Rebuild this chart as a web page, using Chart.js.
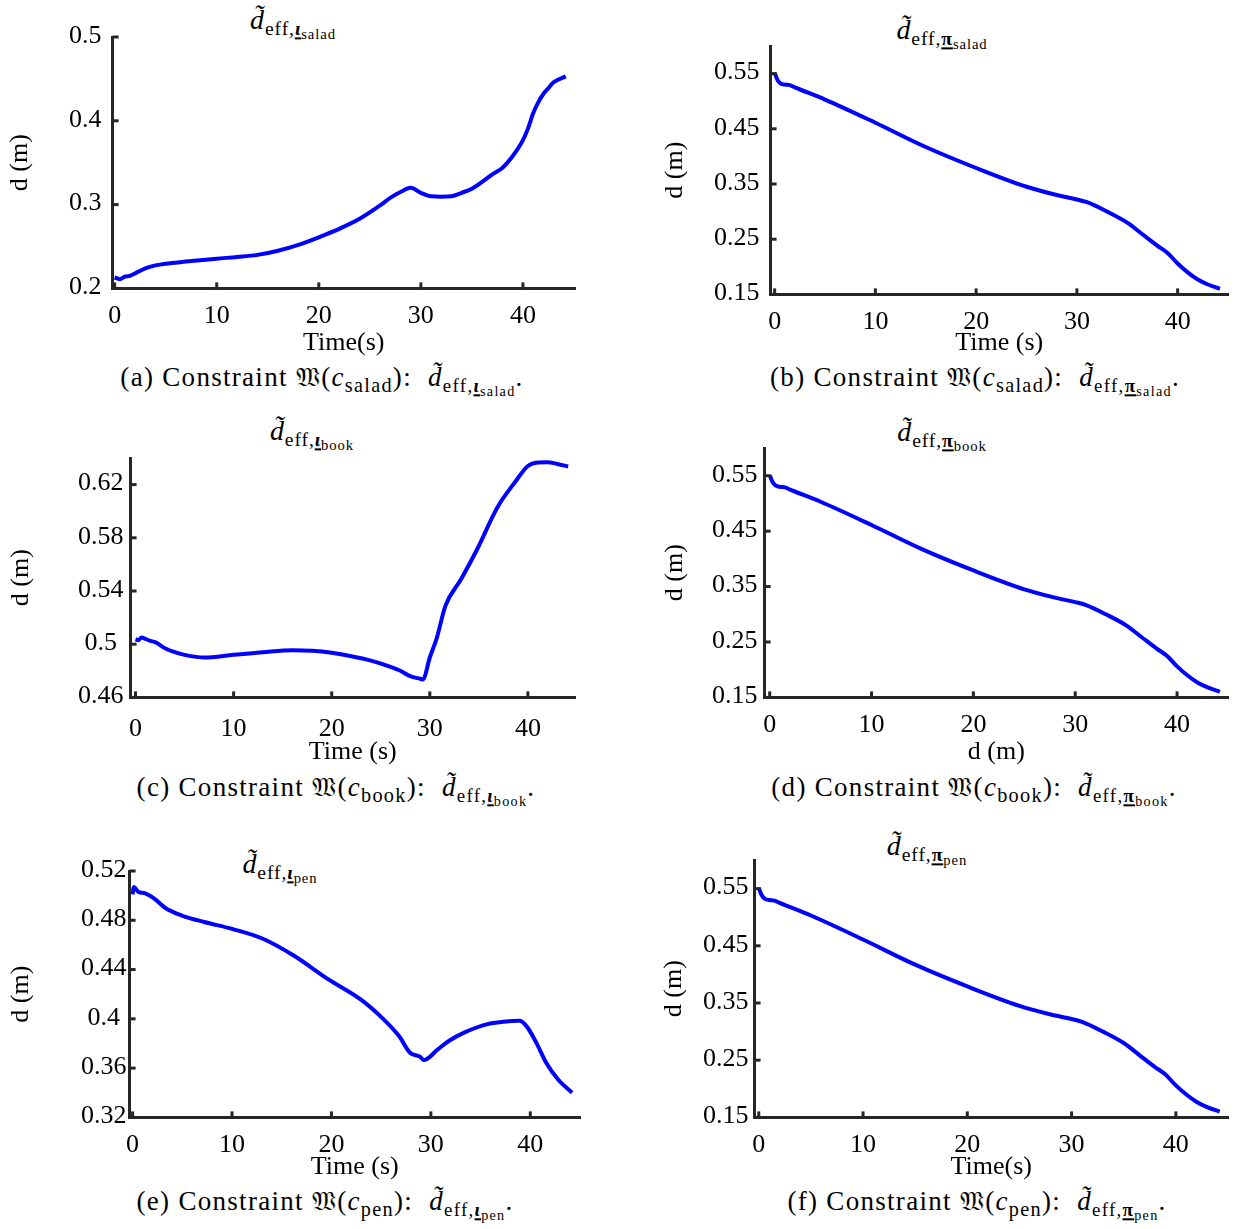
<!DOCTYPE html>
<html><head><meta charset="utf-8">
<script src="https://cdn.jsdelivr.net/npm/chart.js@4.4.1/dist/chart.umd.min.js"></script>
<style>
html,body{margin:0;padding:0;background:#fff;}
body{width:1236px;height:1229px;position:relative;overflow:hidden;font-family:'Liberation Serif',serif;color:#000;}
canvas{position:absolute;}
.txt{position:absolute;white-space:nowrap;transform:translate(-50%,-50%);line-height:1;}
.ttl{font-size:28px;letter-spacing:0.9px;}
.cap{font-size:27px;letter-spacing:1.3px;}
.s1{font-size:70%;vertical-align:-0.3em;}
.s2{font-size:75%;vertical-align:-0.25em;}
.sc{font-size:75%;vertical-align:-0.3em;}
.ul{text-decoration:underline;text-decoration-thickness:1.5px;text-underline-offset:2px;}
.fr{font-family:'DejaVu Sans','Noto Sans',serif;font-size:95%;}
</style></head><body>
<div class="txt ttl" style="left:293px;top:24px"><i>d&#x303;</i><span class="s1">eff,<span class="ul"><b><i>ι</i></b></span><span class="s2">salad</span></span></div>
<div class="txt ttl" style="left:942px;top:34px"><i>d&#x303;</i><span class="s1">eff,<span class="ul"><b>π</b></span><span class="s2">salad</span></span></div>
<div class="txt ttl" style="left:312px;top:435px"><i>d&#x303;</i><span class="s1">eff,<span class="ul"><b><i>ι</i></b></span><span class="s2">book</span></span></div>
<div class="txt ttl" style="left:942px;top:436px"><i>d&#x303;</i><span class="s1">eff,<span class="ul"><b>π</b></span><span class="s2">book</span></span></div>
<div class="txt ttl" style="left:280px;top:868px"><i>d&#x303;</i><span class="s1">eff,<span class="ul"><b><i>ι</i></b></span><span class="s2">pen</span></span></div>
<div class="txt ttl" style="left:927px;top:850px"><i>d&#x303;</i><span class="s1">eff,<span class="ul"><b>π</b></span><span class="s2">pen</span></span></div>

<div class="txt cap" style="left:322px;top:381px">(a) Constraint <span class="fr">𝔚</span>(<i>c</i><span class="sc">salad</span>): &nbsp;<i>d&#x303;</i><span class="s1">eff,<span class="ul"><b><i>ι</i></b></span><span class="s2">salad</span></span>.</div>
<div class="txt cap" style="left:975px;top:381px">(b) Constraint <span class="fr">𝔚</span>(<i>c</i><span class="sc">salad</span>): &nbsp;<i>d&#x303;</i><span class="s1">eff,<span class="ul"><b>π</b></span><span class="s2">salad</span></span>.</div>
<div class="txt cap" style="left:336px;top:791px">(c) Constraint <span class="fr">𝔚</span>(<i>c</i><span class="sc">book</span>): &nbsp;<i>d&#x303;</i><span class="s1">eff,<span class="ul"><b><i>ι</i></b></span><span class="s2">book</span></span>.</div>
<div class="txt cap" style="left:974px;top:791px">(d) Constraint <span class="fr">𝔚</span>(<i>c</i><span class="sc">book</span>): &nbsp;<i>d&#x303;</i><span class="s1">eff,<span class="ul"><b>π</b></span><span class="s2">book</span></span>.</div>
<div class="txt cap" style="left:325px;top:1205px">(e) Constraint <span class="fr">𝔚</span>(<i>c</i><span class="sc">pen</span>): &nbsp;<i>d&#x303;</i><span class="s1">eff,<span class="ul"><b><i>ι</i></b></span><span class="s2">pen</span></span>.</div>
<div class="txt cap" style="left:977px;top:1205px">(f) Constraint <span class="fr">𝔚</span>(<i>c</i><span class="sc">pen</span>): &nbsp;<i>d&#x303;</i><span class="s1">eff,<span class="ul"><b>π</b></span><span class="s2">pen</span></span>.</div>

<script>
// ---------- data ----------
const xTicks = [0, 10, 20, 30, 40];

const timeA   = [0, 0.5, 1, 1.5, 3, 4, 5, 7, 10, 12, 14, 16, 18, 20, 22, 24, 26, 27, 28, 29, 30, 31, 32, 33, 34, 35, 36, 37, 38, 39, 40, 40.5, 41, 41.5, 42, 42.5, 43, 44.2];
const valuesA = [0.213, 0.211, 0.214, 0.215, 0.224, 0.2275, 0.2295, 0.232, 0.2355, 0.2375, 0.240, 0.245, 0.252, 0.261, 0.271, 0.283, 0.299, 0.308, 0.315, 0.320, 0.314, 0.310, 0.3095, 0.310, 0.314, 0.319, 0.327, 0.336, 0.344, 0.358, 0.377, 0.391, 0.409, 0.422, 0.432, 0.439, 0.446, 0.453];
const yTicksA = [0.2, 0.3, 0.4, 0.5];
const yLabelsA = ['0.2', '0.3', '0.4', '0.5'];

const timeB   = [0, 0.3, 0.6, 1, 1.5, 2, 5, 10, 15, 20, 25, 28, 30, 31, 33, 35, 36.5, 38, 39, 40, 41, 42, 43, 44.2];
const valuesB = [0.551, 0.538, 0.532, 0.530, 0.529, 0.525, 0.503, 0.461, 0.417, 0.379, 0.345, 0.330, 0.322, 0.317, 0.300, 0.280, 0.259, 0.238, 0.225, 0.206, 0.190, 0.177, 0.168, 0.160];
const yTicksB = [0.15, 0.25, 0.35, 0.45, 0.55];
const yLabelsB = ['0.15', '0.25', '0.35', '0.45', '0.55'];

const timeC   = [0, 0.3, 0.6, 1, 1.5, 2, 3, 4, 5, 7, 10, 13, 16, 18, 20, 22, 24, 26, 27, 28, 29, 29.3, 30, 30.7, 31.6, 33.2, 34.8, 36.9, 38.7, 40, 41, 42, 43, 44.1];
const valuesC = [0.5037, 0.503, 0.505, 0.504, 0.5025, 0.5015, 0.497, 0.494, 0.492, 0.490, 0.492, 0.494, 0.4955, 0.495, 0.4935, 0.491, 0.4877, 0.483, 0.480, 0.476, 0.474, 0.4735, 0.490, 0.5044, 0.529, 0.549, 0.571, 0.603, 0.622, 0.634, 0.6366, 0.6368, 0.6355, 0.6336];
const yTicksC = [0.46, 0.5, 0.54, 0.58, 0.62];
const yLabelsC = ['0.46', '0.5', '0.54', '0.58', '0.62'];

const timeD   = [0, 0.3, 0.6, 1, 1.5, 2, 5, 10, 15, 20, 25, 28, 30, 31, 33, 35, 36.5, 38, 39, 40, 41, 42, 43, 44.2];
const valuesD = [0.551, 0.538, 0.532, 0.530, 0.529, 0.525, 0.503, 0.461, 0.417, 0.379, 0.345, 0.330, 0.322, 0.317, 0.300, 0.280, 0.259, 0.238, 0.225, 0.206, 0.190, 0.177, 0.168, 0.160];
const yTicksD = [0.15, 0.25, 0.35, 0.45, 0.55];
const yLabelsD = ['0.15', '0.25', '0.35', '0.45', '0.55'];

const timeE   = [0, 0.12, 0.6, 1.2, 2.15, 3.3, 4.9, 7.2, 10, 13.1, 16.2, 19.7, 22.9, 25.2, 26.8, 27.9, 28.9, 29.3, 30.7, 31.8, 33.4, 35.7, 37.3, 38.9, 39.6, 40.6, 41.6, 42.8, 44.2];
const valuesE = [0.501, 0.507, 0.503, 0.502, 0.4977, 0.490, 0.484, 0.4786, 0.473, 0.465, 0.4514, 0.432, 0.416, 0.400, 0.386, 0.3725, 0.3693, 0.3665, 0.3752, 0.382, 0.389, 0.3957, 0.3976, 0.3984, 0.3943, 0.3807, 0.3644, 0.3507, 0.340];
const yTicksE = [0.32, 0.36, 0.4, 0.44, 0.48, 0.52];
const yLabelsE = ['0.32', '0.36', '0.4', '0.44', '0.48', '0.52'];

const timeF   = [0, 0.3, 0.6, 1, 1.5, 2, 5, 10, 15, 20, 25, 28, 30, 31, 33, 35, 36.5, 38, 39, 40, 41, 42, 43, 44.2];
const valuesF = [0.551, 0.538, 0.532, 0.530, 0.529, 0.525, 0.503, 0.461, 0.417, 0.379, 0.345, 0.330, 0.322, 0.317, 0.300, 0.280, 0.259, 0.238, 0.225, 0.206, 0.190, 0.177, 0.168, 0.160];
const yTicksF = [0.15, 0.25, 0.35, 0.45, 0.55];
const yLabelsF = ['0.15', '0.25', '0.35', '0.45', '0.55'];

const xTitles = ['Time(s)', 'Time (s)', 'Time (s)', 'd (m)', 'Time (s)', 'Time(s)'];
const yTitle = 'd (m)';

// ---------- layout (positions only) ----------
const PANELS = [
  {L:113, T:37,  R:575,  B:288,  yGap:92,  xOff:55, tp:11, xtp:12, xMin:-0.2, xMax:45.1, yMin:0.2,  yMax:0.5,  t:timeA, v:valuesA, yt:yTicksA, yl:yLabelsA},
  {L:771, T:46,  R:1228, B:294,  yGap:95,  xOff:49, tp:11, xtp:12, xMin:-0.4, xMax:45.0, yMin:0.15, yMax:0.6,  t:timeB, v:valuesB, yt:yTicksB, yl:yLabelsB},
  {L:131, T:458, R:575,  B:697,  yGap:109, xOff:55, tp:7,  xtp:16, xMin:-0.5, xMax:44.8, yMin:0.46, yMax:0.64, t:timeC, v:valuesC, yt:yTicksC, yl:yLabelsC},
  {L:765, T:448, R:1228, B:697,  yGap:89,  xOff:55, tp:7,  xtp:12, xMin:-0.5, xMax:45.0, yMin:0.15, yMax:0.6,  t:timeD, v:valuesD, yt:yTicksD, yl:yLabelsD},
  {L:130, T:871, R:580,  B:1117, yGap:108, xOff:50, tp:3,  xtp:12, xMin:-0.3, xMax:45.0, yMin:0.32, yMax:0.52, t:timeE, v:valuesE, yt:yTicksE, yl:yLabelsE},
  {L:755, T:860, R:1228, B:1117, yGap:80,  xOff:50, tp:6,  xtp:12, xMin:-0.4, xMax:45.0, yMin:0.15, yMax:0.6,  t:timeF, v:valuesF, yt:yTicksF, yl:yLabelsF}
];

const AXIS = '#262626';
const FONT = "'Liberation Serif', serif";
const FS = 26, LH = FS * 1.2;
const PAD_T = 24, PAD_R = 8;

const inwardTicks = {
  id: 'inwardTicks',
  afterDatasetsDraw(chart) {
    const {ctx, chartArea: a, scales: {x, y}} = chart;
    ctx.save();
    ctx.strokeStyle = AXIS; ctx.lineWidth = 3;
    x.ticks.forEach(t => { const p = x.getPixelForValue(t.value); ctx.beginPath(); ctx.moveTo(p, a.bottom); ctx.lineTo(p, a.bottom - 6); ctx.stroke(); });
    y.ticks.forEach(t => { const p = y.getPixelForValue(t.value); ctx.beginPath(); ctx.moveTo(a.left, p); ctx.lineTo(a.left + 6, p); ctx.stroke(); });
    ctx.restore();
  }
};

function build() {
  PANELS.forEach((P, i) => {
    const yW = P.yGap + LH / 2 + 2;
    const xH = P.xOff + LH / 2;
    const cv = document.createElement('canvas');
    const W = Math.round(yW + (P.R - P.L) + PAD_R);
    const H = Math.round(PAD_T + (P.B - P.T) + xH);
    cv.width = W; cv.height = H;
    cv.style.left = (P.L - yW) + 'px';
    cv.style.top = (P.T - PAD_T) + 'px';
    document.body.appendChild(cv);
    new Chart(cv, {
      type: 'line',
      data: { datasets: [{ data: P.t.map((tt, k) => ({x: tt, y: P.v[k]})), borderColor: '#0000ff', borderWidth: 4, pointRadius: 0, cubicInterpolationMode: 'monotone', fill: false }] },
      options: {
        responsive: false, animation: false, events: [],
        layout: { padding: { top: PAD_T, right: PAD_R, left: 0, bottom: 0 } },
        plugins: { legend: { display: false }, tooltip: { enabled: false } },
        scales: {
          x: {
            type: 'linear', min: P.xMin, max: P.xMax,
            afterBuildTicks: s => { s.ticks = xTicks.map(v => ({value: v})); },
            afterFit: s => { s.height = xH; s.paddingLeft = 0; s.paddingRight = 0; },
            grid: { display: false, drawTicks: false, tickLength: 0 },
            border: { display: true, color: AXIS, width: 3 },
            ticks: { color: '#000', font: { family: FONT, size: FS }, padding: P.xtp, maxRotation: 0, callback: v => String(v) },
            title: { display: true, text: xTitles[i], color: '#000', font: { family: FONT, size: FS }, padding: { top: 0, bottom: 0 } }
          },
          y: {
            type: 'linear', min: P.yMin, max: P.yMax,
            afterBuildTicks: s => { s.ticks = P.yt.map(v => ({value: v})); },
            afterFit: s => { s.width = yW; s.paddingTop = 0; s.paddingBottom = 0; },
            grid: { display: false, drawTicks: false, tickLength: 0 },
            border: { display: true, color: AXIS, width: 3 },
            ticks: { color: '#000', font: { family: FONT, size: FS }, padding: P.tp, crossAlign: 'center', labelOffset: -1,
                     callback: (v) => { const k = P.yt.findIndex(q => Math.abs(q - v) < 1e-9); return k >= 0 ? P.yl[k] : ''; } },
            title: { display: true, text: yTitle, color: '#000', font: { family: FONT, size: FS }, padding: { top: 2, bottom: 0 } }
          }
        }
      },
      plugins: [inwardTicks]
    });
  });
}

const fontReady = (document.fonts && document.fonts.load)
  ? Promise.all([document.fonts.load("26px 'Liberation Serif'"), document.fonts.load("italic 26px 'Liberation Serif'")]).catch(() => {})
  : Promise.resolve();
fontReady.then(build, build);
</script>
</body></html>
